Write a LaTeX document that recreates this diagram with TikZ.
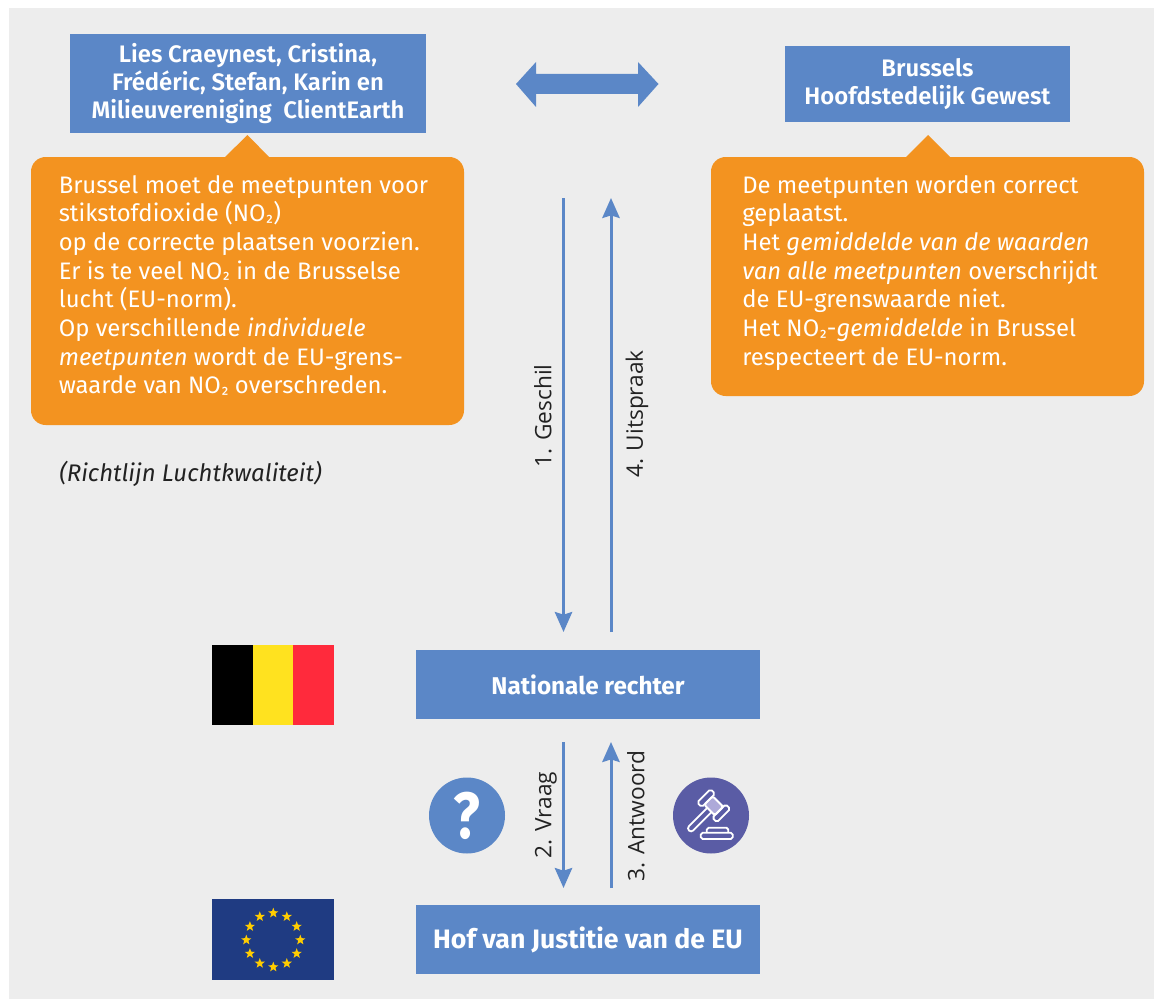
\documentclass[tikz,border=0pt]{standalone}
\usepackage{fontspec}
\setmainfont{Fira Sans}
\newfontfamily\opensans{Open Sans}
\newfontfamily\firamed{Fira Sans SemiBold}
\usetikzlibrary{arrows.meta,shapes.geometric}
\definecolor{bgc}{HTML}{EDEDED}
\definecolor{blu}{HTML}{5B87C7}
\definecolor{ora}{HTML}{F39320}
\definecolor{txt}{HTML}{222222}
\definecolor{purp}{HTML}{5A5CA5}
\definecolor{lila}{HTML}{ADA9D9}
\definecolor{eub}{HTML}{1F3B82}
\definecolor{eus}{HTML}{FFCC00}
\definecolor{bey}{HTML}{FFE21F}
\definecolor{ber}{HTML}{FF2A3C}
\newcommand{\subtwo}{\raisebox{1.8pt}{\scalebox{.8}{₂}}}
\tikzset{
  x=0.75pt,y=-0.75pt,
  bluebox/.style={fill=blu,text=white,font=\fontsize{17.9}{21}\selectfont\firamed,align=center,inner sep=0pt,minimum width=#1*0.75pt},
  callout/.style={fill=ora,rounded corners=11pt,inner sep=0pt,minimum width=433*0.75pt},
  bodytext/.style={text=white,font=\fontsize{17.9}{21.5}\selectfont,align=left,inner sep=0pt,anchor=north west},
  flow/.style={draw=blu,line width=2.25pt,-{Stealth[length=15pt,width=13pt,inset=2pt]}},
  flowlabel/.style={rotate=90,text=txt,font=\opensans\fontsize{17}{19}\selectfont,inner sep=0pt},
  disc/.style={circle,inner sep=0pt,minimum size=57pt},
  gav/.style={draw=white,line width=1.35pt,rounded corners=1.4pt},
}
\begin{document}
\begin{tikzpicture}
\useasboundingbox (0,0) rectangle (1154,999);
\fill[bgc] (9,8) rectangle (1154,999);
% top boxes
\node[bluebox=356,minimum height=74.25pt] (parties) at (248,83.5) {Lies Craeynest, Cristina,\\Frédéric, Stefan, Karin en\\Milieuvereniging\ \ ClientEarth};
\node[bluebox=285,minimum height=57pt] (gewest) at (927.5,84) {Brussels\\Hoofdstedelijk Gewest};
% double arrow
\fill[blu] (516,84) -- (536,62) -- (536,74) -- (638,74) -- (638,62) -- (658.5,84) -- (638,107) -- (638,94) -- (536,94) -- (536,107) -- cycle;
% callouts
\node[callout,minimum height=201pt] (left) at (247.5,291) {};
\node[callout,minimum height=179.25pt] (right) at (927.5,276.5) {};
\fill[ora] (224,158) -- (247.5,135) -- (270,158) -- cycle;
\fill[ora] (905,158) -- (928,135) -- (951,158) -- cycle;
\node[bodytext] (lefttext) at (58.5,175) {Brussel moet de meetpunten voor\\stikstofdioxide (NO\subtwo)\\op de correcte plaatsen voorzien.\\Er is te veel NO\subtwo{} in de Brusselse\\lucht (EU-norm).\\Op verschillende \textit{individuele}\\\textit{meetpunten} wordt de EU-grens-\\waarde van NO\subtwo{} overschreden.};
\node[bodytext] (righttext) at (742,175) {De meetpunten worden correct\\geplaatst.\\Het \textit{gemiddelde van de waarden}\\\textit{van alle meetpunten} overschrijdt\\de EU-grenswaarde niet.\\Het NO\subtwo-\textit{gemiddelde} in Brussel\\respecteert de EU-norm.};
\node[text=txt,font=\fontsize{18}{21}\selectfont\itshape,inner sep=0pt,anchor=west] (richtlijn) at (59,474) {(Richtlijn Luchtkwaliteit)};
% lower boxes
\node[bluebox=344,minimum height=51.75pt,font=\fontsize{18.2}{21}\selectfont\bfseries] (rechter) at (588,684.5) {Nationale rechter};
\node[bluebox=344,minimum height=51.75pt,font=\fontsize{20}{24}\selectfont\bfseries] (hof) at (588,939.5) {Hof van Justitie van de EU};
% connector ends
\coordinate (g1) at (563.5,198); \coordinate (g2) at (563.5,632);
\coordinate (u1) at (611,632);   \coordinate (u2) at (611,198);
\coordinate (v1) at (563.5,742); \coordinate (v2) at (563.5,888);
\coordinate (a1) at (611,888);   \coordinate (a2) at (611,742);
\draw[flow] (g1) -- (g2);
\draw[flow] (u1) -- (u2);
\draw[flow] (v1) -- (v2);
\draw[flow] (a1) -- (a2);
\node[flowlabel] (l1) at (543,416) {1. Geschil};
\node[flowlabel] (l4) at (637,414) {4. Uitspraak};
\node[flowlabel] (l2) at (546,815) {2. Vraag};
\node[flowlabel] (l3) at (636,816) {3. Antwoord};
% Belgian flag
\fill[black] (212,645) rectangle (253,725);
\fill[bey] (253,645) rectangle (293,725);
\fill[ber] (293,645) rectangle (334,725);
% EU flag
\fill[eub] (212,899) rectangle (334,980);
\foreach \i in {1,...,12}
  \node[star,star points=5,star point ratio=2.4,fill=eus,inner sep=0pt,minimum size=8pt] (star\i) at ({273.3+27*cos(\i*30)},{940-27*sin(\i*30)}) {};
% question disc
\node[disc,fill=blu,text=white,font=\fontsize{49}{49}\selectfont\bfseries] (vraag) at (467,815.5) {\scalebox{.85}[1]{?}};
% gavel disc
\node[disc,fill=purp] (gavel) at (711,815.5) {};
\begin{scope}[shift={(713.7,805.7)},rotate=-45]
  \filldraw[gav,fill=lila] (-7.5,-6) rectangle (7.5,6);
  \draw[gav] (-14,-9.5) rectangle (-7.5,9.5);
  \draw[gav] (7.5,-9.5) rectangle (14,9.5);
  \draw[gav,rounded corners=2.2pt] (-3,6) -- (-3,35) -- (3,35) -- (3,6);
\end{scope}
\draw[gav] (700.7,832.7) rectangle (732.7,839);
\draw[gav] (706.7,832.7) -- (706.7,827.7) -- (728.3,827.7) -- (728.3,832.7);
\end{tikzpicture}
\end{document}
